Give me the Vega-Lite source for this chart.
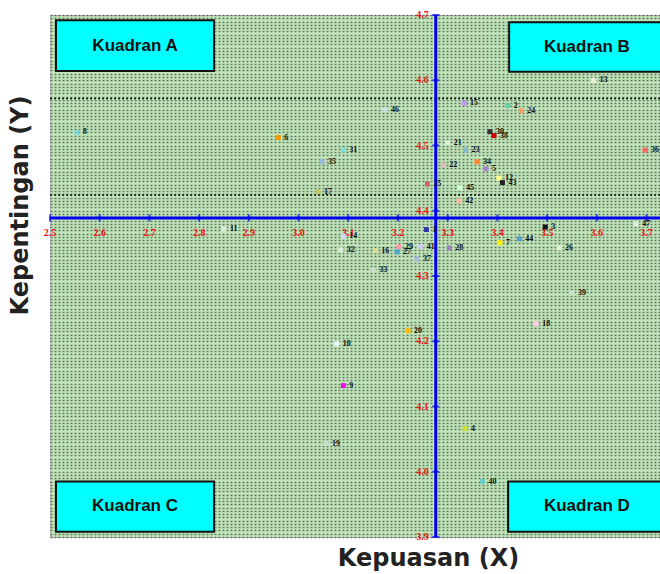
{
  "$schema": "https://vega.github.io/schema/vega-lite/v6.json",
  "width": 610,
  "height": 522,
  "autosize": "none",
  "padding": {"left": 50, "top": 15, "right": 0, "bottom": 37},
  "background": "white",
  "view": {"fill": "#c2e6ba", "stroke": "#bbbbbb"},
  "config": {
    "axis": {"domain": false, "ticks": false, "labels": false, "grid": false},
    "axisY": {"grid": true, "tickCount": 160, "gridColor": "#1e301e", "gridDash": [2, 2], "gridWidth": 1.5, "gridOpacity": 0.6}
  },
  "datasets": {
    "pts": [
      {"id": "8", "x": 2.554, "y": 4.520},
      {"id": "6", "x": 2.959, "y": 4.512},
      {"id": "31", "x": 3.090, "y": 4.493},
      {"id": "35", "x": 3.047, "y": 4.475},
      {"id": "17", "x": 3.039, "y": 4.429},
      {"id": "11", "x": 2.850, "y": 4.372},
      {"id": "46", "x": 3.174, "y": 4.555},
      {"id": "15", "x": 3.333, "y": 4.565},
      {"id": "2", "x": 3.421, "y": 4.561},
      {"id": "24", "x": 3.448, "y": 4.553},
      {"id": "30", "x": 3.385, "y": 4.521},
      {"id": "38", "x": 3.393, "y": 4.515},
      {"id": "21", "x": 3.300, "y": 4.504},
      {"id": "23", "x": 3.336, "y": 4.493},
      {"id": "34", "x": 3.359, "y": 4.475},
      {"id": "5", "x": 3.377, "y": 4.464},
      {"id": "22", "x": 3.291, "y": 4.470},
      {"id": "12", "x": 3.403, "y": 4.450},
      {"id": "43", "x": 3.410, "y": 4.443},
      {"id": "25", "x": 3.259, "y": 4.441},
      {"id": "45", "x": 3.325, "y": 4.435},
      {"id": "42", "x": 3.323, "y": 4.415},
      {"id": "1", "x": 3.257, "y": 4.371},
      {"id": "14", "x": 3.090, "y": 4.361},
      {"id": "32", "x": 3.085, "y": 4.340},
      {"id": "16", "x": 3.154, "y": 4.339},
      {"id": "29", "x": 3.202, "y": 4.345},
      {"id": "27", "x": 3.198, "y": 4.337},
      {"id": "41", "x": 3.246, "y": 4.345},
      {"id": "37", "x": 3.238, "y": 4.326},
      {"id": "33", "x": 3.150, "y": 4.309},
      {"id": "28", "x": 3.303, "y": 4.343},
      {"id": "7", "x": 3.405, "y": 4.351},
      {"id": "44", "x": 3.444, "y": 4.357},
      {"id": "26", "x": 3.524, "y": 4.343},
      {"id": "39", "x": 3.550, "y": 4.274},
      {"id": "18", "x": 3.478, "y": 4.227},
      {"id": "20", "x": 3.220, "y": 4.216},
      {"id": "10", "x": 3.077, "y": 4.196},
      {"id": "9", "x": 3.090, "y": 4.132},
      {"id": "19", "x": 3.055, "y": 4.043},
      {"id": "4", "x": 3.335, "y": 4.066},
      {"id": "40", "x": 3.370, "y": 3.985},
      {"id": "36", "x": 3.697, "y": 4.493},
      {"id": "13", "x": 3.593, "y": 4.600},
      {"id": "3", "x": 3.496, "y": 4.375},
      {"id": "47", "x": 3.679, "y": 4.380}
    ],
    "xt": [{"v": 2.5}, {"v": 2.6}, {"v": 2.7}, {"v": 2.8}, {"v": 2.9}, {"v": 3.0}, {"v": 3.1}, {"v": 3.2}, {"v": 3.3}, {"v": 3.4}, {"v": 3.5}, {"v": 3.6}, {"v": 3.7}],
    "yt": [{"v": 3.9}, {"v": 4.0}, {"v": 4.1}, {"v": 4.2}, {"v": 4.3}, {"v": 4.4}, {"v": 4.5}, {"v": 4.6}, {"v": 4.7}],
    "quads": [
      {"q": "Kuadran A", "x1": 2.512, "x2": 2.830, "y1": 4.614, "y2": 4.692, "cx": 2.671, "cy": 4.653},
      {"q": "Kuadran B", "x1": 3.4235, "x2": 3.76, "y1": 4.613, "y2": 4.689, "cx": 3.580, "cy": 4.651},
      {"q": "Kuadran C", "x1": 2.512, "x2": 2.830, "y1": 3.908, "y2": 3.985, "cx": 2.671, "cy": 3.947},
      {"q": "Kuadran D", "x1": 3.4215, "x2": 3.76, "y1": 3.908, "y2": 3.985, "cx": 3.580, "cy": 3.947}
    ],
    "dots": [{"y": 4.572}, {"y": 4.424}],
    "cross": [{"mx": 3.276, "my": 4.389}]
  },
  "layer": [
    {
      "data": {"name": "pts"},
      "mark": {"type": "point", "shape": "square", "filled": true, "size": 22, "opacity": 1},
      "encoding": {
        "x": {"field": "x", "type": "quantitative", "scale": {"domain": [2.5, 3.727], "nice": false, "zero": false},
          "axis": {"title": "Kepuasan (X)", "titleFont": "DejaVu Sans", "titleFontSize": 24, "titleFontWeight": "bold", "titleColor": "#222222", "titleX": 378, "titleY": 21, "titleAlign": "center", "titleBaseline": "middle", "titleAnchor": null}},
        "y": {"field": "y", "type": "quantitative", "scale": {"domain": [3.9, 4.7], "nice": false, "zero": false},
          "axis": {"title": "Kepentingan (Y)", "titleFont": "DejaVu Sans", "titleFontSize": 24, "titleFontWeight": "bold", "titleColor": "#222222", "titleX": -30, "titleY": 190, "titleAngle": -90, "titleAlign": "center", "titleBaseline": "middle", "titleAnchor": null}},
        "color": {"field": "id", "type": "nominal", "legend": null,
          "scale": {
            "domain": ["8","6","31","35","17","11","46","15","2","24","30","38","21","23","34","5","22","12","43","25","45","42","1","14","32","16","29","27","41","37","33","28","7","44","26","39","18","20","10","9","19","4","40","36","13","3","47"],
            "range": ["#7fd6d6","#ff9900","#77dddd","#99bbdd","#bbcc66","#d8ecd8","#d0e0e0","#bb99ee","#66ccaa","#ff9966","#333333","#cc0000","#d8efd8","#88bbcc","#ff8833","#aa88cc","#ddbbbb","#ffff88","#222222","#cc6666","#ccffcc","#ffbbaa","#3333aa","#ccddff","#d8ecd8","#dddd99","#ff99aa","#55aacc","#ccccee","#aabbdd","#ccddcc","#9988bb","#ffee00","#5599dd","#ddeecc","#ccddcc","#ffccdd","#ffbb00","#eeffff","#ff00ff","#ccddcc","#ccdd33","#66cccc","#ff6666","#eeeedd","#111111","#ddeedd"]
          }}
      }
    },
    {
      "data": {"name": "dots"},
      "mark": {"type": "rule", "color": "#111111", "strokeWidth": 1.5, "strokeDash": [2, 2]},
      "encoding": {"y": {"field": "y", "type": "quantitative"}}
    },
    {
      "data": {"name": "quads"},
      "mark": {"type": "rect", "fill": "#00ffff", "stroke": "#111111", "strokeWidth": 2, "clip": true},
      "encoding": {
        "x": {"field": "x1", "type": "quantitative"},
        "x2": {"field": "x2"},
        "y": {"field": "y1", "type": "quantitative"},
        "y2": {"field": "y2"}
      }
    },
    {
      "data": {"name": "quads"},
      "mark": {"type": "text", "font": "Liberation Sans", "fontWeight": "bold", "fontSize": 17, "color": "#111111", "baseline": "middle", "align": "center"},
      "encoding": {
        "x": {"field": "cx", "type": "quantitative"},
        "y": {"field": "cy", "type": "quantitative"},
        "text": {"field": "q"}
      }
    },
    {
      "data": {"name": "cross"},
      "mark": {"type": "rule", "color": "#0000ee", "strokeWidth": 3},
      "encoding": {"y": {"field": "my", "type": "quantitative"}}
    },
    {
      "data": {"name": "cross"},
      "mark": {"type": "rule", "color": "#0000ee", "strokeWidth": 3},
      "encoding": {"x": {"field": "mx", "type": "quantitative"}}
    },
    {
      "data": {"name": "xt"},
      "mark": {"type": "tick", "orient": "vertical", "color": "#0000ee", "size": 7, "thickness": 2},
      "encoding": {
        "x": {"field": "v", "type": "quantitative"},
        "y": {"datum": 4.389, "type": "quantitative"}
      }
    },
    {
      "data": {"name": "yt"},
      "mark": {"type": "tick", "orient": "horizontal", "color": "#0000ee", "size": 7, "thickness": 2},
      "encoding": {
        "y": {"field": "v", "type": "quantitative"},
        "x": {"datum": 3.276, "type": "quantitative"}
      }
    },
    {
      "data": {"name": "xt"},
      "mark": {"type": "text", "color": "#ee1111", "font": "Liberation Serif", "fontWeight": "bold", "fontSize": 10, "dy": 15, "align": "center", "baseline": "middle"},
      "encoding": {
        "x": {"field": "v", "type": "quantitative"},
        "y": {"datum": 4.389, "type": "quantitative"},
        "text": {"field": "v", "type": "quantitative", "format": ".1f"}
      }
    },
    {
      "data": {"name": "yt"},
      "mark": {"type": "text", "color": "#ee1111", "font": "Liberation Serif", "fontWeight": "bold", "fontSize": 10, "dx": -7, "align": "right", "baseline": "middle"},
      "encoding": {
        "y": {"field": "v", "type": "quantitative"},
        "x": {"datum": 3.276, "type": "quantitative"},
        "text": {"field": "v", "type": "quantitative", "format": ".1f"}
      }
    },
    {
      "data": {"name": "pts"},
      "mark": {"type": "point", "shape": "square", "filled": true, "size": 22, "opacity": 1},
      "encoding": {
        "x": {"field": "x", "type": "quantitative"},
        "y": {"field": "y", "type": "quantitative"},
        "color": {"field": "id", "type": "nominal", "legend": null}
      }
    },
    {
      "data": {"name": "pts"},
      "mark": {"type": "text", "font": "Liberation Serif", "fontWeight": "bold", "fontSize": 8, "color": "#111111", "dx": 6, "align": "left", "baseline": "middle"},
      "encoding": {
        "x": {"field": "x", "type": "quantitative"},
        "y": {"field": "y", "type": "quantitative"},
        "text": {"field": "id"}
      }
    }
  ]
}
